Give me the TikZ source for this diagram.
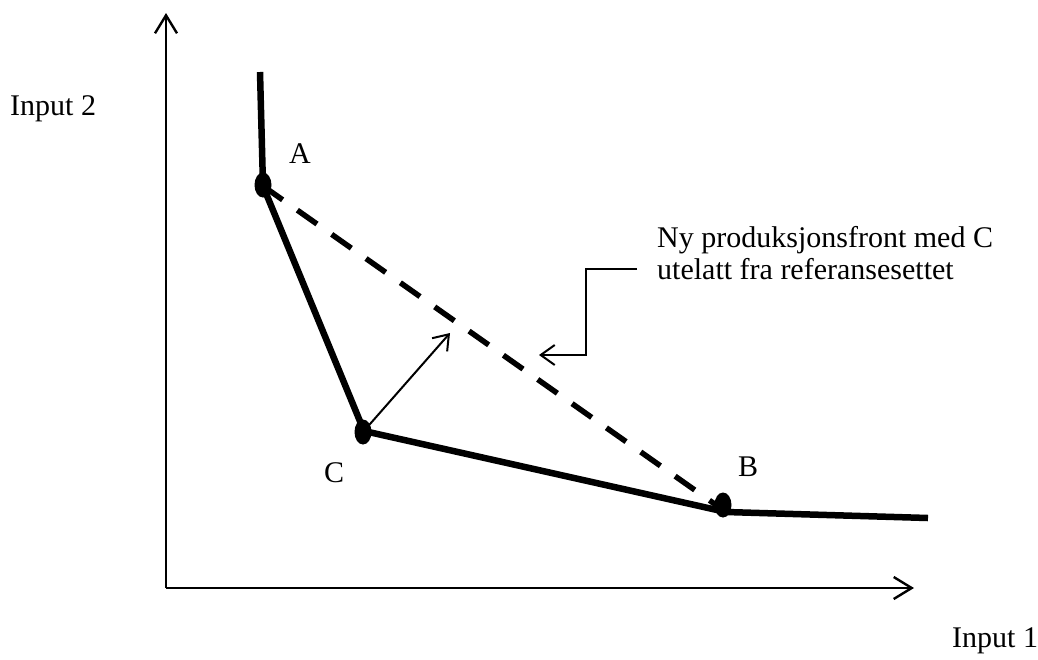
\documentclass[tikz,border=0pt]{standalone}
\usepackage{fontspec}
\setmainfont{Liberation Serif}
\usetikzlibrary{arrows.meta,shapes.geometric}
\begin{document}
\begin{tikzpicture}[x=1pt,y=-1pt,
  lbl/.style={inner sep=0pt, anchor=base west, font=\fontsize{30}{33}\selectfont},
  axisline/.style={line width=2.4pt, -{Straight Barb[length=18pt,width=22pt,line width=2.4pt]}},
  thinarrow/.style={line width=2pt, -{Straight Barb[length=14pt,width=20pt,line width=2pt]}},
  front/.style={line width=6.5pt, line join=round},
  newfront/.style={line width=5.5pt, dash pattern=on 24pt off 18pt},
  dot/.style={ellipse, fill=black, draw=none, inner sep=0pt, minimum width=17pt, minimum height=25pt}
]
\useasboundingbox (0,0) rectangle (1038,659);
% axes
\coordinate (O) at (166,588);
\coordinate (ytop) at (166,13);
\coordinate (xend) at (914,588);
\draw[axisline] (O) -- (ytop);
\draw[axisline] (O) -- (xend);
% points
\coordinate (top) at (260,72);
\coordinate (right) at (928,518);
\coordinate (Ap) at (263,186);
\coordinate (Cp) at (364,431);
\coordinate (Bp) at (726,512);
% dashed new front
\draw[newfront] (Ap) -- (Bp);
% frontier
\draw[front] (top) -- (Ap) -- (Cp) -- (Bp) -- (right);
% dots
\node[dot] (A) at (263,185) {};
\node[dot] (C) at (363,432) {};
\node[dot] (B) at (723,505) {};
% direction arrow
\coordinate (dirtip) at (450,333);
\draw[thinarrow] (C.center) -- (dirtip);
% callout
\coordinate (c1) at (637,269);
\coordinate (cx) at (586,355);
\coordinate (ctip) at (539,355);
\draw[thinarrow] (c1) -| (cx) -- (ctip);
% labels
\node[lbl] (in2) at (10,115) {Input 2};
\node[lbl] (in1) at (952,647) {Input 1};
\node[lbl] (lA) at (289,163) {A};
\node[lbl] (lC) at (324,482) {C};
\node[lbl] (lB) at (738,476) {B};
\node[lbl] (note1) at (657,247) {Ny produksjonsfront med C};
\node[lbl] (note2) at (657,279) {utelatt fra referansesettet};
\end{tikzpicture}
\end{document}
